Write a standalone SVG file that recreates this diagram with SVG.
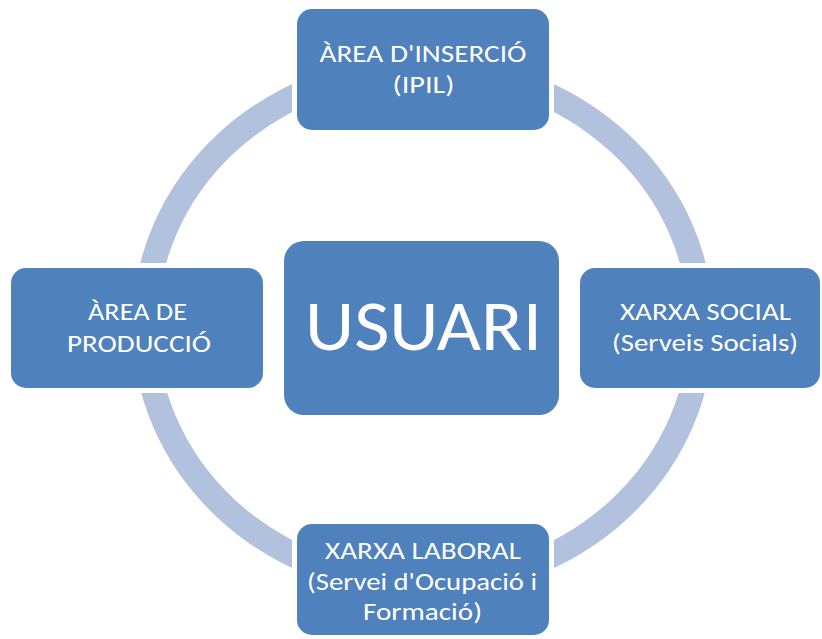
<svg xmlns="http://www.w3.org/2000/svg" width="822" height="639" viewBox="0 0 822 639">
<style>
.ring{fill:none;stroke:#B2C1DD;stroke-width:25}
.box{fill:#4F81BD;stroke:#FFFFFF;stroke-width:10;paint-order:stroke fill}
.t{fill:#FFFFFF;font-family:Carlito,"Liberation Sans",Arial,sans-serif;font-size:23.5px;text-anchor:middle}
.big{font-size:72px}
</style>
<rect width="822" height="639" fill="#FFFFFF"/>
<g id="connectors">
<path class="ring" d="M423,67.5 A278.2,258.5 0 0 1 701.2,326"/>
<path class="ring" d="M701.2,326 A278.2,258.5 0 0 1 423,584.5"/>
<path class="ring" d="M423,584.5 A278.2,258.5 0 0 1 144.8,326"/>
<path class="ring" d="M144.8,326 A278.2,258.5 0 0 1 423,67.5"/>
</g>
<g id="node-top">
<rect class="box" x="297" y="9" width="252" height="121" rx="15"/>
<text class="t" x="423" y="62" textLength="207" lengthAdjust="spacingAndGlyphs">ÀREA D'INSERCIÓ</text>
<text class="t" x="423.5" y="93" textLength="62" lengthAdjust="spacingAndGlyphs">(IPIL)</text>
</g>
<g id="node-left">
<rect class="box" x="11" y="268" width="252" height="120" rx="15"/>
<text class="t" x="137.5" y="319.5" textLength="99" lengthAdjust="spacingAndGlyphs">ÀREA DE</text>
<text class="t" x="139" y="352" textLength="144" lengthAdjust="spacingAndGlyphs">PRODUCCIÓ</text>
</g>
<g id="node-right">
<rect class="box" x="580" y="268" width="240" height="120" rx="15"/>
<text class="t" x="705.5" y="319.5" textLength="171" lengthAdjust="spacingAndGlyphs">XARXA SOCIAL</text>
<text class="t" x="705" y="351" textLength="186" lengthAdjust="spacingAndGlyphs">(Serveis Socials)</text>
</g>
<g id="node-bottom">
<rect class="box" x="297" y="524" width="252" height="111" rx="15"/>
<text class="t" x="423" y="559" textLength="196" lengthAdjust="spacingAndGlyphs">XARXA LABORAL</text>
<text class="t" x="422" y="590" textLength="230" lengthAdjust="spacingAndGlyphs">(Servei d'Ocupació i</text>
<text class="t" x="422.5" y="620" textLength="119" lengthAdjust="spacingAndGlyphs">Formació)</text>
</g>
<g id="node-center">
<rect class="box" x="284" y="241" width="275" height="174" rx="20"/>
<text class="t big" x="423.5" y="350" textLength="237" lengthAdjust="spacingAndGlyphs">USUARI</text>
</g>
</svg>
